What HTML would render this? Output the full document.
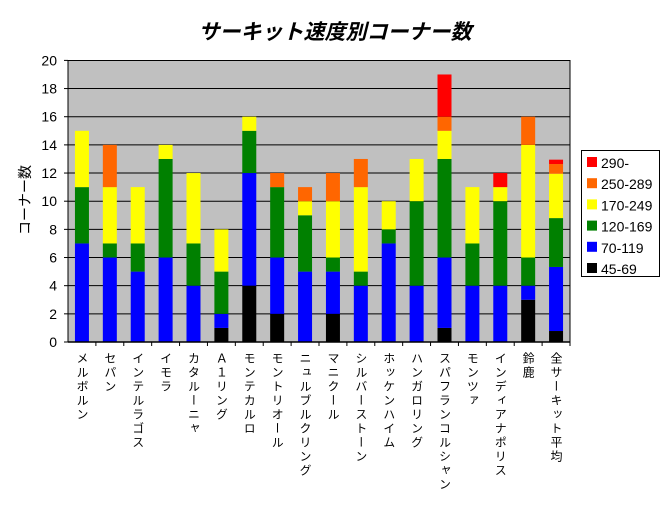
<!DOCTYPE html>
<html><head><meta charset="utf-8"><style>
body{margin:0;background:#fff;width:670px;height:519px;overflow:hidden;position:relative;font-family:"Liberation Sans","Noto Sans CJK JP",sans-serif}
.lab{position:absolute;top:352px;writing-mode:vertical-rl;text-orientation:upright;font-size:12px;line-height:14px;letter-spacing:2px;color:#000;width:14px}
</style></head><body>
<svg id="s" width="670" height="519" style="position:absolute;left:0;top:0" font-family="Liberation Sans, Noto Sans CJK JP, sans-serif">
<text x="335" y="39" text-anchor="middle" font-size="21" font-style="italic" font-weight="bold">サーキット速度別コーナー数</text>
<rect x="68" y="60.5" width="502" height="281.5" fill="#c0c0c0" stroke="#000" stroke-width="1"/>
<g id="g"></g>
<text x="30" y="200" font-size="14" text-anchor="middle" transform="rotate(-90 30 200)">コーナー数</text>
<rect x="581.5" y="150.5" width="78" height="126" fill="#fff" stroke="#000"/>
<g id="lg" font-size="14"></g>
</svg>
<div id="labs"></div>
<script>
const g=document.getElementById('g');let h='';
const Y=v=>342-14.08*v;
for(let v=0;v<=20;v+=2){if(v>0&&v<20)h+=`<line x1="68" x2="570" y1="${Y(v)}" y2="${Y(v)}" stroke="#000"/>`;
h+=`<text x="57" y="${Y(v)+5}" font-size="14" text-anchor="end">${v}</text>`;h+=`<line x1="64" x2="68" y1="${Y(v)}" y2="${Y(v)}" stroke="#000"/>`;}
const cols=['#000','#0000ff','#008000','#ffff00','#ff6600','#ff0000'];
const d=[[0,7,4,4],[0,6,1,4,3],[0,5,2,4],[0,6,7,1],[0,4,3,5],[1,1,3,3],[4,8,3,1],[2,4,5,0,1],[0,5,4,1,1],[2,3,1,4,2],[0,4,1,6,2],[0,7,1,2],[0,4,6,3],[1,5,7,2,1,3],[0,4,3,4],[0,4,6,1,0,1],[3,1,2,8,2],[0.78,4.55,3.47,3.15,0.69,0.31]];
const names=['メルボルン','セパン','インテルラゴス','イモラ','カタルーニャ','Ａ１リング','モンテカルロ','モントリオール','ニュルブルクリング','マニクール','シルバーストーン','ホッケンハイム','ハンガロリング','スパフランコルシャン','モンツァ','インディアナポリス','鈴鹿','全サーキット平均'];
const W=502/18;let lh='';
d.forEach((a,i)=>{const c=68+W*(i+0.5);let s=0;a.forEach((v,k)=>{if(v>0){h+=`<rect x="${c-7}" y="${Y(s+v)}" width="14" height="${14.08*v}" fill="${cols[k]}"/>`;}s+=v;});
h+=`<line x1="${68+W*(i+1)}" x2="${68+W*(i+1)}" y1="342" y2="346" stroke="#000"/>`;
lh+=`<div class="lab" style="left:${c-7}px">${names[i]}</div>`;});
h+=`<line x1="68" x2="570" y1="342" y2="342" stroke="#000" stroke-width="1.5"/>`;
g.innerHTML=h;document.getElementById('labs').innerHTML=lh;
const L=['290-','250-289','170-249','120-169','70-119','45-69'];let l='';
L.forEach((t,k)=>{const y=157+k*21.2;l+=`<rect x="587" y="${y}" width="10" height="10" fill="${cols[5-k]}"/><text x="601" y="${y+11}">${t}</text>`;});
document.getElementById('lg').innerHTML=l;
</script>
</body></html>
